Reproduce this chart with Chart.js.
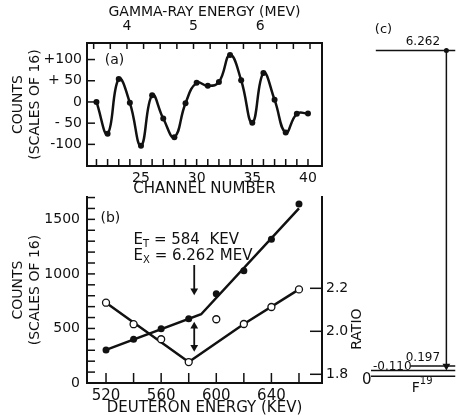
<!DOCTYPE html>
<html>
<head>
<meta charset="utf-8">
<title>F19 6.262 MeV level</title>
<script src="https://cdn.jsdelivr.net/npm/chart.js@4.4.1/dist/chart.umd.min.js"></script>
<style>
  html, body { margin: 0; padding: 0; background: #fff; }
  #wrap { position: relative; width: 460px; height: 415px; overflow: hidden; }
  #wrap canvas { position: absolute; }
</style>
</head>
<body>
<div id="wrap">
  <canvas id="chartA" width="460" height="200" style="left:0;top:0;width:460px;height:200px"></canvas>
  <canvas id="chartB" width="460" height="240" style="left:0;top:180px;width:460px;height:240px"></canvas>
  <canvas id="chartC" width="105" height="415" style="left:355px;top:0;width:105px;height:415px"></canvas>
</div>
<script>
// (a) difference spectrum
const channels = [21, 22, 23, 24, 25, 26, 27, 28, 29, 30, 31, 32, 33, 34, 35, 36, 37, 38, 39, 40];
const countsA = [0, -75, 54, -2, -103, 16, -39, -83, -3, 45, 38, 47, 111, 51, -49, 68, 5, -72, -28, -27];
const channelLabels = [25, 30, 35, 40];
const gammaLabels = [4, 5, 6];
const countsATicks = [-100, -50, 0, 50, 100];

// (b) yield vs deuteron energy
const deuteronE = [520, 540, 560, 580, 600, 620, 640, 660];
const countsB = [303, 401, 498, 590, 817, 1030, 1318, 1640];
const ratioB = [2.133, 2.033, 1.963, 1.857, 2.056, 2.034, 2.113, 2.195];
const countsFitE = [520, 589, 660];
const countsFit = [303, 630, 1600];
const ratioFitE = [520, 580, 620, 660];
const ratioFit = [2.133, 1.857, 2.034, 2.195];
const deuteronLabels = [520, 560, 600, 640];
const countsBLabels = [0, 500, 1000, 1500];
const ratioLabels = [1.8, 2.0, 2.2];
const thresholdE = 584;
const arrowDown = [1082, 845];
const arrowBoth = [521, 328];

// (c) F19 levels, MeV
const levelE = [0, 0.110, 0.197, 6.262];
const levelLabels = ['0', '-0.110', '0.197', '6.262'];

const ink = '#111';
const family = '"DejaVu Sans", sans-serif';
Chart.defaults.font.family = family;
Chart.defaults.color = ink;
Chart.defaults.plugins.legend.display = false;
Chart.defaults.plugins.tooltip.enabled = false;

const font = (size) => ({ family: family, size: size, lineHeight: 1.2 });
const border = { color: ink, width: 2 };
const noGrid = { display: false, drawTicks: false, tickLength: 0 };

function steps(from, to, step) {
  const out = [];
  for (let v = from; v <= to + 1e-9; v += step) out.push(+v.toFixed(4));
  return out;
}

function signed(v) {
  if (v === 0) return '0';
  const a = Math.abs(v);
  return (v > 0 ? '+' : '-') + (a < 100 ? ' ' : '') + a;
}

// tick marks point into the plot, length in px per scale
const inTicks = {
  chartA: { x: 7, xTop: 6, y: 8 },
  chartB: { x: 10, y: 8, y2: 12 }
};

const innerTicks = {
  id: 'innerTicks',
  afterDraw(chart) {
    const spec = inTicks[chart.canvas.id];
    if (!spec) return;
    const ctx = chart.ctx;
    ctx.save();
    ctx.strokeStyle = ink;
    ctx.lineWidth = 1.5;
    Object.keys(spec).forEach(id => {
      const s = chart.scales[id];
      const len = spec[id];
      s.ticks.forEach(t => {
        const p = s.getPixelForValue(t.value);
        ctx.beginPath();
        if (s.position === 'bottom') { ctx.moveTo(p, s.top); ctx.lineTo(p, s.top - len); }
        if (s.position === 'top') { ctx.moveTo(p, s.bottom); ctx.lineTo(p, s.bottom + len); }
        if (s.position === 'left') { ctx.moveTo(s.right, p); ctx.lineTo(s.right + len, p); }
        if (s.position === 'right') { ctx.moveTo(s.left, p); ctx.lineTo(s.left - len, p); }
        ctx.stroke();
      });
    });
    ctx.restore();
  }
};

// labels placed through the chart scales
const annotations = {
  chartA: [
    { x: 21.75, y: 98, parts: [{ text: '(a)', size: 14 }] }
  ],
  chartB: [
    { x: 516, y: 1510, parts: [{ text: '(b)', size: 14 }] },
    { x: 540, y: 1311, parts: [{ text: 'E', size: 15 }, { text: 'T', size: 10, shift: 4 }, { text: ' = 584  KEV', size: 15 }] },
    { x: 540, y: 1164, parts: [{ text: 'E', size: 15 }, { text: 'X', size: 10, shift: 4 }, { text: ' = 6.262 MEV', size: 15 }] },
    { x: 702, y: 2.01, yAxis: 'y2', align: 'center', rotate: -Math.PI / 2, parts: [{ text: 'RATIO', size: 14 }] }
  ],
  chartC: [
    { x: 0.16, y: levelE[3], dy: -21, parts: [{ text: '(c)', size: 13 }] },
    { x: 0.66, y: levelE[3], dy: -9, align: 'center', parts: [{ text: levelLabels[3], size: 12 }] },
    { x: 0.66, y: levelE[2], dy: -8, align: 'center', parts: [{ text: levelLabels[2], size: 12 }] },
    { x: 0.14, y: levelE[1], dy: -4, parts: [{ text: levelLabels[1], size: 12 }] },
    { x: 0.076, y: levelE[0], dy: 4, align: 'center', parts: [{ text: levelLabels[0], size: 15 }] },
    { x: 0.545, y: levelE[0], dy: 12, parts: [{ text: 'F', size: 14 }, { text: '19', size: 10, shift: -7 }] }
  ]
};

const panelText = {
  id: 'panelText',
  afterDraw(chart) {
    const ctx = chart.ctx;
    (annotations[chart.canvas.id] || []).forEach(item => {
      const xs = chart.scales[item.xAxis || 'x'];
      const ys = chart.scales[item.yAxis || 'y'];
      ctx.save();
      ctx.fillStyle = ink;
      ctx.textBaseline = 'middle';
      ctx.textAlign = 'left';
      let w = 0;
      item.parts.forEach(p => { ctx.font = p.size + 'px ' + family; w += ctx.measureText(p.text).width; });
      const px = xs.getPixelForValue(item.x) + (item.dx || 0);
      const py = ys.getPixelForValue(item.y) + (item.dy || 0);
      ctx.translate(px, py);
      if (item.rotate) ctx.rotate(item.rotate);
      let x = item.align === 'center' ? -w / 2 : 0;
      item.parts.forEach(p => {
        ctx.font = p.size + 'px ' + family;
        ctx.fillText(p.text, x, p.shift || 0);
        x += ctx.measureText(p.text).width;
      });
      ctx.restore();
    });
  }
};

// ---------- panel (a)
new Chart(document.getElementById('chartA'), {
  type: 'line',
  data: {
    datasets: [{
      data: channels.map((c, i) => ({ x: c, y: countsA[i] })),
      borderColor: ink,
      borderWidth: 2.5,
      tension: 0.45,
      pointRadius: 3,
      pointBackgroundColor: ink,
      pointBorderWidth: 0
    }]
  },
  options: {
    responsive: false,
    animation: false,
    layout: { padding: { left: 0, right: 138, top: 0, bottom: 0 } },
    scales: {
      x: {
        type: 'linear', position: 'bottom', min: 20.15, max: 41.26,
        afterBuildTicks: s => { s.ticks = steps(21, 40, 1).map(value => ({ value })); },
        afterFit: s => { s.height = 34; },
        ticks: { autoSkip: false, maxRotation: 0, padding: 4, color: ink, font: font(14),
                 callback: v => channelLabels.includes(v) ? String(v) : '' },
        grid: noGrid,
        border: border,
        title: { display: true, text: 'CHANNEL NUMBER', color: ink, font: font(15), padding: { top: 0, bottom: 2 } }
      },
      xTop: {
        type: 'linear', position: 'top', min: 3.40, max: 6.93,
        afterBuildTicks: s => { s.ticks = steps(3.5, 6.75, 0.25).map(value => ({ value })); },
        afterFit: s => { s.height = 43; },
        ticks: { autoSkip: false, maxRotation: 0, padding: 8, color: ink, font: font(14),
                 callback: v => gammaLabels.includes(v) ? String(v) : '' },
        grid: noGrid,
        border: border,
        title: { display: true, text: 'GAMMA-RAY ENERGY (MEV)', color: ink, font: font(14), padding: { top: 4, bottom: 0 } }
      },
      y: {
        type: 'linear', min: -151, max: 139,
        afterBuildTicks: s => { s.ticks = countsATicks.map(value => ({ value })); },
        afterFit: s => { s.width = 87; },
        ticks: { padding: 5, color: ink, font: font(14), callback: v => signed(v) },
        grid: noGrid,
        border: border,
        title: { display: true, text: ['COUNTS', '(SCALES OF 16)'], color: ink, font: font(14), padding: { top: 10, bottom: 0 } }
      },
      yR: {
        type: 'linear', position: 'right', min: -151, max: 139,
        afterFit: s => { s.width = 0; },
        ticks: { display: false },
        grid: noGrid,
        border: border
      }
    }
  },
  plugins: [innerTicks, panelText]
});

// ---------- panel (b)
new Chart(document.getElementById('chartB'), {
  type: 'line',
  data: {
    datasets: [
      { data: deuteronE.map((e, i) => ({ x: e, y: countsB[i] })), yAxisID: 'y', showLine: false,
        pointRadius: 3.5, pointBackgroundColor: ink, pointBorderWidth: 0 },
      { data: deuteronE.map((e, i) => ({ x: e, y: ratioB[i] })), yAxisID: 'y2', showLine: false,
        pointRadius: 3.5, pointBackgroundColor: '#fff', pointBorderColor: ink, pointBorderWidth: 1.3 },
      { data: countsFitE.map((e, i) => ({ x: e, y: countsFit[i] })), yAxisID: 'y',
        borderColor: ink, borderWidth: 2.5, pointRadius: 0 },
      { data: ratioFitE.map((e, i) => ({ x: e, y: ratioFit[i] })), yAxisID: 'y2',
        borderColor: ink, borderWidth: 2.5, pointRadius: 0 },
      { data: arrowDown.map(c => ({ x: thresholdE, y: c })), yAxisID: 'y',
        borderColor: ink, borderWidth: 1.8, pointStyle: 'triangle', pointRadius: [0, 4.5],
        pointRotation: [0, 180], pointBackgroundColor: ink, pointBorderWidth: 0 },
      { data: arrowBoth.map(c => ({ x: thresholdE, y: c })), yAxisID: 'y',
        borderColor: ink, borderWidth: 1.8, pointStyle: 'triangle', pointRadius: 4.5,
        pointRotation: [0, 180], pointBackgroundColor: ink, pointBorderWidth: 0 }
    ]
  },
  options: {
    responsive: false,
    animation: false,
    layout: { padding: { left: 0, right: 98, top: 17, bottom: 0 } },
    scales: {
      x: {
        type: 'linear', min: 506.2, max: 676.7,
        afterBuildTicks: s => { s.ticks = steps(520, 660, 20).map(value => ({ value })); },
        afterFit: s => { s.height = 37; },
        ticks: { autoSkip: false, maxRotation: 0, padding: 4, color: ink, font: font(15),
                 callback: v => deuteronLabels.includes(v) ? String(v) : '' },
        grid: noGrid,
        border: border,
        title: { display: true, text: 'DEUTERON ENERGY (KEV)', color: ink, font: font(15), padding: { top: 0, bottom: 3 } }
      },
      y: {
        type: 'linear', min: 0, max: 1705,
        afterBuildTicks: s => { s.ticks = steps(0, 1700, 100).map(value => ({ value })); },
        afterFit: s => { s.width = 87; },
        ticks: { autoSkip: false, padding: 7, color: ink, font: font(14),
                 callback: v => countsBLabels.includes(v) ? String(v) : '' },
        grid: noGrid,
        border: border,
        title: { display: true, text: ['COUNTS', '(SCALES OF 16)'], color: ink, font: font(14), padding: { top: 10, bottom: 0 } }
      },
      y2: {
        type: 'linear', position: 'right', min: 1.7595, max: 2.6247,
        afterBuildTicks: s => { s.ticks = ratioLabels.map(value => ({ value })); },
        afterFit: s => { s.width = 40; },
        ticks: { autoSkip: false, padding: 4, color: ink, font: font(14), callback: v => v.toFixed(1) },
        grid: noGrid,
        border: border
      }
    }
  },
  plugins: [innerTicks, panelText]
});

// ---------- panel (c) level scheme
const levelStart = [0.12, 0.12, 0.53, 0.17];
const levelSets = levelE.map((e, i) => ({
  data: [{ x: levelStart[i], y: e }, { x: 1, y: e }],
  borderColor: ink, borderWidth: 1.5, pointRadius: 0
}));
levelSets.push({
  data: [{ x: 0.905, y: levelE[3] }, { x: 0.905, y: levelE[2] }],
  borderColor: ink, borderWidth: 1.5,
  pointStyle: ['circle', 'triangle'], pointRadius: [2.5, 4.5], pointRotation: [0, 180],
  pointBackgroundColor: ink, pointBorderWidth: 0
});

new Chart(document.getElementById('chartC'), {
  type: 'line',
  data: { datasets: levelSets },
  options: {
    responsive: false,
    animation: false,
    layout: { padding: 0 },
    scales: {
      x: { type: 'linear', display: false, min: 0, max: 1 },
      y: { type: 'linear', display: false, min: -0.658, max: 7.146 }
    }
  },
  plugins: [panelText]
});
</script>
</body>
</html>
